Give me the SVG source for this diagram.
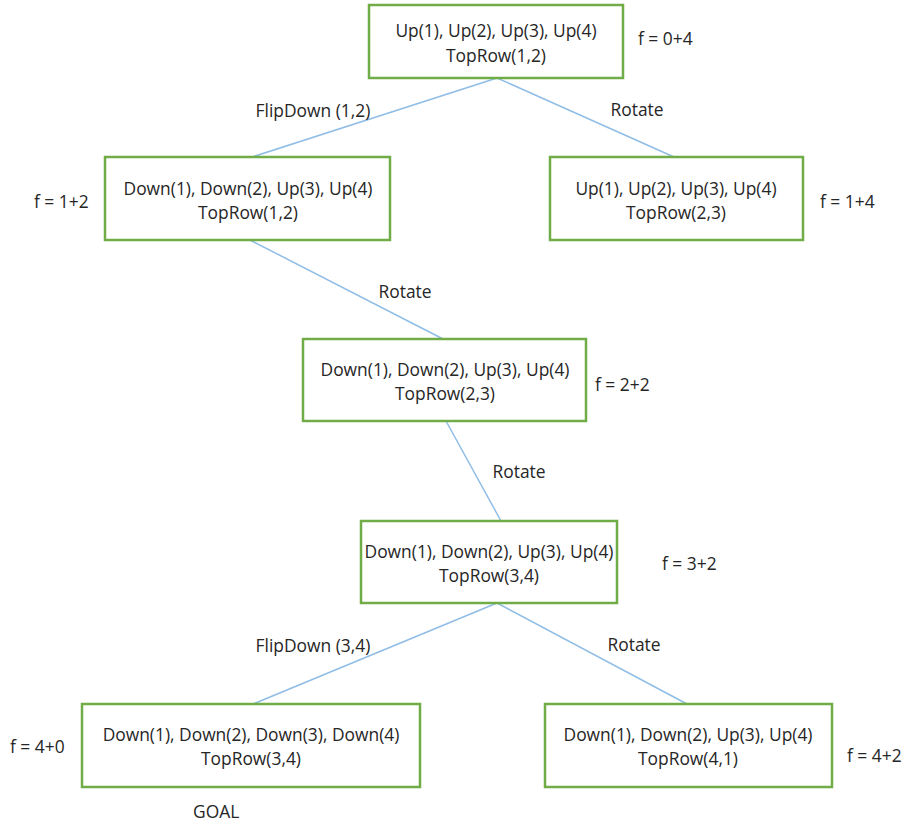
<svg xmlns="http://www.w3.org/2000/svg" width="904" height="825" viewBox="0 0 904 825">
<style>
.box{fill:#fff;stroke:#70ad47;stroke-width:2.5}
.t{font-family:"Open Sans","Liberation Sans",sans-serif;font-size:17.4px;fill:#262626}
.c{text-anchor:middle}
.edge{stroke:#8fbde6;stroke-width:1.5;fill:none}
</style>
<rect width="904" height="825" fill="#fff"/>
<g id="connectors">
<line class="edge" x1="497" y1="78" x2="252" y2="157"/>
<line class="edge" x1="497" y1="78" x2="674" y2="157"/>
<line class="edge" x1="250" y1="240" x2="443" y2="339"/>
<line class="edge" x1="446" y1="421" x2="501" y2="521"/>
<line class="edge" x1="497" y1="603" x2="253" y2="704"/>
<line class="edge" x1="497" y1="603" x2="687" y2="704"/>
</g>
<g id="edge-labels">
<text class="t c" x="313" y="117">FlipDown (1,2)</text>
<text class="t c" x="637" y="116">Rotate</text>
<text class="t c" x="405" y="298">Rotate</text>
<text class="t c" x="519" y="478">Rotate</text>
<text class="t c" x="313" y="652">FlipDown (3,4)</text>
<text class="t c" x="634" y="651">Rotate</text>
</g>
<g id="n1">
<rect class="box" x="369" y="5" width="254" height="73"/>
<text class="t c" x="496" y="37">Up(1), Up(2), Up(3), Up(4)</text>
<text class="t c" x="496" y="62">TopRow(1,2)</text>
<text class="t" x="638" y="45">f = 0+4</text>
</g>
<g id="n2">
<rect class="box" x="105" y="157" width="285" height="83"/>
<text class="t c" x="248" y="195">Down(1), Down(2), Up(3), Up(4)</text>
<text class="t c" x="248" y="219">TopRow(1,2)</text>
<text class="t" x="34" y="208">f = 1+2</text>
</g>
<g id="n3">
<rect class="box" x="550" y="157" width="253" height="83"/>
<text class="t c" x="676" y="195">Up(1), Up(2), Up(3), Up(4)</text>
<text class="t c" x="676" y="219">TopRow(2,3)</text>
<text class="t" x="820" y="208">f = 1+4</text>
</g>
<g id="n4">
<rect class="box" x="303" y="339" width="283" height="82"/>
<text class="t c" x="445" y="376">Down(1), Down(2), Up(3), Up(4)</text>
<text class="t c" x="445" y="400">TopRow(2,3)</text>
<text class="t" x="595" y="391">f = 2+2</text>
</g>
<g id="n5">
<rect class="box" x="361" y="521" width="256" height="82"/>
<text class="t c" x="489" y="558">Down(1), Down(2), Up(3), Up(4)</text>
<text class="t c" x="489" y="582">TopRow(3,4)</text>
<text class="t" x="662" y="570">f = 3+2</text>
</g>
<g id="n6">
<rect class="box" x="82" y="704" width="338" height="83"/>
<text class="t c" x="251" y="741">Down(1), Down(2), Down(3), Down(4)</text>
<text class="t c" x="251" y="765">TopRow(3,4)</text>
<text class="t" x="10" y="753">f = 4+0</text>
<text class="t" x="193" y="818">GOAL</text>
</g>
<g id="n7">
<rect class="box" x="545" y="704" width="287" height="83"/>
<text class="t c" x="688" y="741">Down(1), Down(2), Up(3), Up(4)</text>
<text class="t c" x="688" y="765">TopRow(4,1)</text>
<text class="t" x="847" y="762">f = 4+2</text>
</g>
</svg>
